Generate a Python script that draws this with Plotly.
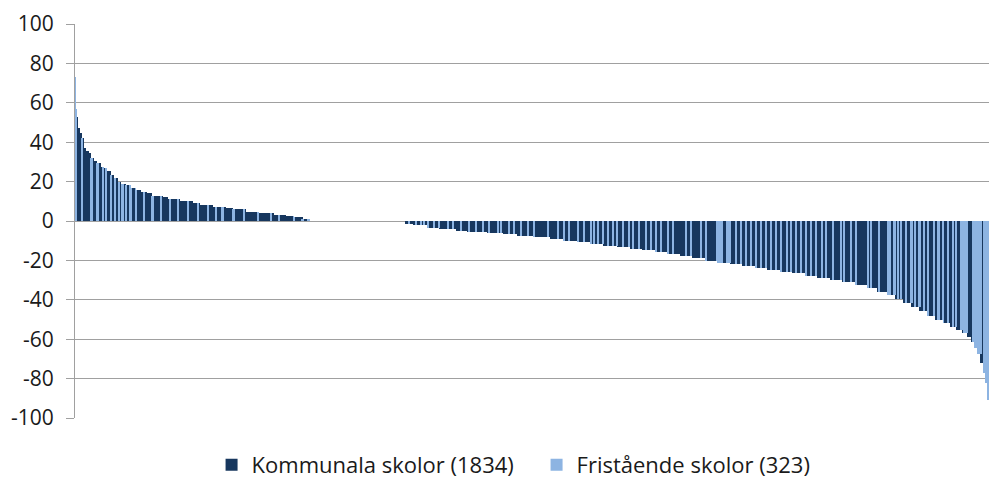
import plotly.graph_objects as go

# ---- data (schools sorted by value, descending) ----
# plateau values and how many schools sit on each plateau
niva_varden = [73, 57, 53, 47, 44.5, 42, 37, 35.7, 34.7, 31.8,
               30.5, 29.3, 27.6, 26.7, 25.5, 23.4, 21.7, 20, 19, 18.3,
               16.6, 15.7, 14.9, 14, 12.9, 12.4, 11, 10.2, 9.3, 8.1,
               7.3, 6.8, 6.1, 4.7, 3.9, 3, 2.5, 1.9, 1,
               0,
               -1.3, -2, -3.3, -4.2, -5, -5.5, -6.3, -6.7, -7.5, -8.3,
               -9.2, -10, -10.8, -11.7, -12.5, -13.3,
               -14.0, -14.8, -15.8, -16.9, -17.8, -19.0, -20.2, -21.2, -22.0, -22.9,
               -23.8, -24.8, -25.8, -26.6, -27.7, -28.8, -29.9, -31.0, -32.5,
               -34.0, -35.8, -37.5, -39.5, -41.5, -43.5, -45.5, -48.0, -50.0, -52.0,
               -54.0, -55.5, -57.0, -59.0, -61.5, -64.5, -67.5, -72.0, -77, -82, -91]
niva_antal = [1, 1, 4, 4, 4, 5, 4, 8, 4, 8,
              8, 8, 8, 8, 8, 8, 8, 8, 12, 12,
              12, 12, 12, 12, 27, 12, 28, 31, 16, 31,
              31, 16, 31, 31, 35, 28, 20, 20, 16,
              228,
              19, 33, 30, 40, 24, 47, 38, 33, 38, 40,
              31, 33, 31, 30, 33, 31,
              28, 31, 28, 31, 28, 31, 28, 31, 28, 31,
              28, 31, 28, 31, 28, 31, 28, 31, 28,
              24, 24, 19, 19, 19, 19, 19, 19, 17, 19,
              14, 14, 12, 9, 7, 7, 7, 7, 5, 5, 2]

# rank positions (in the sorted order) where runs of independent schools start, and run lengths
fristaende_start = [0, 16, 38, 52, 66, 73, 83, 94, 102, 111, 120, 130, 142, 161, 182, 201,
                    224, 243, 265, 289, 312, 331, 347, 373, 397, 430, 461, 480, 515, 536, 550,
                    600,
                    787, 803, 815, 822, 832, 846, 858, 879, 891, 910,
                    928, 945, 962, 976, 997, 1004, 1023, 1035, 1051, 1068,
                    1082, 1115, 1139, 1153, 1165, 1186, 1200, 1217, 1224, 1233,
                    1245, 1257, 1269, 1278, 1292, 1306, 1316, 1330, 1347, 1358,
                    1370, 1382, 1399, 1410, 1441, 1453, 1477, 1488, 1514, 1538,
                    1559, 1571, 1583, 1595, 1606, 1618, 1630, 1642, 1654, 1666,
                    1680, 1689, 1701, 1713, 1725, 1736, 1748, 1762, 1772, 1788,
                    1807, 1814, 1831, 1843, 1871, 1878, 1897, 1918,
                    1933, 1942, 1949, 1961, 1973, 1982, 1992, 2003, 2013, 2027,
                    2037, 2048, 2060, 2072, 2079, 2091, 2098, 2105, 2119, 2145]
fristaende_langd = [2, 2, 2, 2, 2, 2, 2, 2, 2, 2, 2, 2, 2, 2, 2, 2,
                    2, 2, 2, 3, 2, 2, 2, 2, 2, 2, 2, 2, 2, 2, 2,
                    13,
                    2, 2, 2, 2, 2, 2, 2, 2, 2, 2,
                    2, 2, 2, 2, 2, 2, 2, 2, 2, 2,
                    2, 2, 2, 2, 2, 2, 2, 2, 2, 2,
                    2, 2, 2, 2, 2, 2, 2, 2, 2, 2,
                    2, 2, 2, 2, 2, 2, 2, 2, 14, 9,
                    2, 2, 2, 2, 2, 2, 2, 2, 2, 2,
                    2, 2, 2, 2, 2, 2, 2, 2, 2, 2,
                    2, 2, 2, 2, 2, 2, 2, 7,
                    2, 2, 2, 2, 2, 2, 2, 2, 2, 2,
                    2, 2, 2, 2, 2, 2, 2, 2, 19, 12]

serie_namn = ["Kommunala skolor (1834)", "Fristående skolor (323)"]
y_tick_varden = [100, 80, 60, 40, 20, 0, -20, -40, -60, -80, -100]
y_tick_text = ["100", "80", "60", "40", "20", "0", "-20", "-40", "-60", "-80", "-100"]

# ---- build per-school table ----
varden = []
for v, n in zip(niva_varden, niva_antal):
    varden.extend([v] * n)
antal = len(varden)
fristaende = set()
for s, n in zip(fristaende_start, fristaende_langd):
    fristaende.update(range(s, s + n))
print("schools:", antal, "independent:", len(fristaende))

x = list(range(antal))
y_kommunal = [None if i in fristaende else varden[i] for i in x]
y_fri = [varden[i] if i in fristaende else None for i in x]

MORK = "#17375E"
LJUS = "#8DB4E2"
GRID = "#A0A0A0"
FONT = "Open Sans"

fig = go.Figure()
fig.add_trace(go.Bar(x=x, y=y_kommunal, name=serie_namn[0],
                     marker=dict(color=MORK, line=dict(width=0)), width=2.4))
fig.add_trace(go.Bar(x=x, y=y_fri, name=serie_namn[1],
                     marker=dict(color=LJUS, line=dict(width=0)), width=1.8))

fig.update_layout(
    width=990, height=480,
    margin=dict(l=75, r=1, t=24, b=62, autoexpand=False),
    paper_bgcolor="white", plot_bgcolor="white",
    barmode="overlay", bargap=0,
    font=dict(family=FONT, size=22, color="#1a1a1a"),
    showlegend=True,
    legend=dict(orientation="h", x=0.505, xanchor="center", y=-0.119, yanchor="middle",
                font=dict(family=FONT, size=22, color="#1a1a1a"), traceorder="normal",
                entrywidth=280, entrywidthmode="pixels"),
    hovermode=False,
)
fig.update_xaxes(range=[-0.5, antal - 0.5], showticklabels=False, showgrid=False,
                 zeroline=False, showline=False, ticks="", automargin=False)
fig.update_yaxes(range=[-100, 100], tickvals=y_tick_varden, ticktext=y_tick_text,
                 showgrid=True, gridcolor=GRID, gridwidth=1,
                 zeroline=True, zerolinecolor=GRID, zerolinewidth=1,
                 showline=True, linecolor=GRID, linewidth=1,
                 ticks="outside", ticklen=8, tickcolor=GRID, ticklabelstandoff=8,
                 automargin=False,
                 tickfont=dict(family=FONT, size=21, color="#1a1a1a"))

fig.write_html("out.html", config={"displayModeBar": False},
               post_script="document.body.style.margin='0';document.body.style.padding='0';"
                           "document.body.style.overflow='hidden';")
